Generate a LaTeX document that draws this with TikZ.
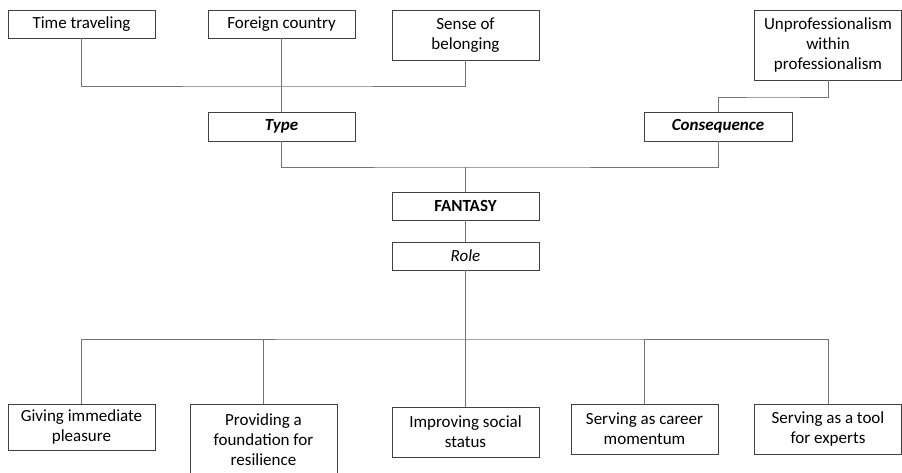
\documentclass[tikz,border=0pt]{standalone}
\usepackage{fontspec}
\setmainfont{Carlito}
\begin{document}
\begin{tikzpicture}[x=1pt,y=-1pt,
  box/.style={draw=black!75, line width=0.9pt, fill=white, minimum width=147pt, inner sep=1pt, align=center, font=\fontsize{17}{20}\selectfont},
  conn/.style={draw=black!55, line width=0.9pt}]
\useasboundingbox (0,0) rectangle (902,473);
\clip (0,0) rectangle (902,473);
% connectors first
\coordinate (j1) at (281.5,86);
\coordinate (j2) at (465.5,167);
\coordinate (j3) at (773,97);
\coordinate (j4) at (465.5,339);
\node[box, minimum height=28pt] (tt) at (81.5,24) {Time traveling};
\node[box, minimum height=28pt] (fc) at (281.5,24) {Foreign country};
\node[box, minimum height=50pt] (sb) at (465.5,35) {Sense of\\belonging};
\node[box, minimum height=70pt] (up) at (828,45) {Unprofessionalism\\within\\professionalism};
\node[box, minimum height=29pt] (type) at (281.5,126.5) {\textbf{\textit{Type}}};
\node[box, minimum height=29pt, minimum width=148pt] (cons) at (718,126.5) {\textbf{\textit{Consequence}}};
\node[box, minimum height=28pt] (fan) at (465.5,206) {\textbf{FANTASY}};
\node[box, minimum height=28pt] (role) at (465.5,256) {\textit{Role}};
\node[box, minimum height=46pt] (g1) at (81.5,427) {Giving immediate\\pleasure};
\node[box, minimum height=72pt] (g2) at (263.5,440) {Providing a\\foundation for\\resilience};
\node[box, minimum height=50pt] (g3) at (465.5,432) {Improving social\\status};
\node[box, minimum height=50pt] (g4) at (644.5,429) {Serving as career\\momentum};
\node[box, minimum height=50pt] (g5) at (828,429) {Serving as a tool\\for experts};
\begin{scope}[on background layer/.style={}]
\draw[conn] (tt.south) |- (j1) -| (sb.south);
\draw[conn] (fc.south) -- (type.north);
\draw[conn] (type.south) |- (j2) -| (cons.south);
\draw[conn] (j2) -- (fan.north);
\draw[conn] (up.south) |- (j3) -| (cons.north);
\draw[conn] (fan.south) -- (role.north);
\draw[conn] (role.south) -- (j4);
\draw[conn] (g1.north) |- (j4) -| (g5.north);
\draw[conn] (g2.north) -- (g2.north |- j4);
\draw[conn] (g3.north) -- (j4);
\draw[conn] (g4.north) -- (g4.north |- j4);
\end{scope}
\end{tikzpicture}
\end{document}
